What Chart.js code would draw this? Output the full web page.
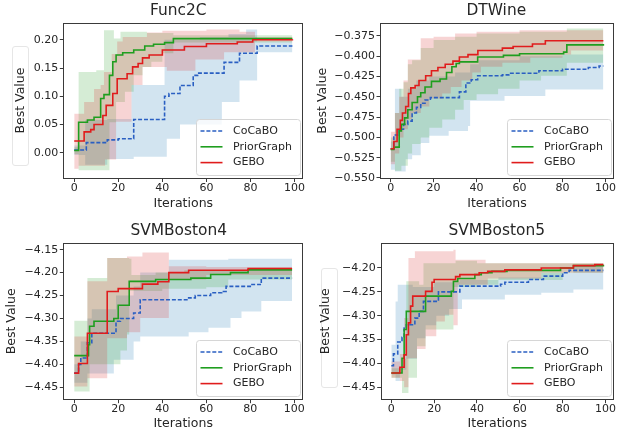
<!DOCTYPE html>
<html><head><meta charset="utf-8">
<script src="https://cdn.jsdelivr.net/npm/chart.js@4.4.0/dist/chart.umd.min.js"></script>
<style>
html,body{margin:0;padding:0;background:#fff;}
body{width:621px;height:438px;position:relative;overflow:hidden;}
canvas{position:absolute;}
.lbox{position:absolute;border:1px solid #e6e6e6;border-radius:3px;}
</style></head><body>
<div class="lbox" style="left:12px;top:46px;width:15px;height:118px"></div>
<div class="lbox" style="left:321px;top:268px;width:15px;height:118px"></div>
<canvas id="c1" width="310" height="219" style="left:0;top:0"></canvas>
<canvas id="c2" width="311" height="219" style="left:310px;top:0"></canvas>
<canvas id="c3" width="310" height="219" style="left:0;top:219px"></canvas>
<canvas id="c4" width="311" height="219" style="left:310px;top:219px"></canvas>
<script>
// ---------- data ----------
const SERIES_NAMES = ['CoCaBO', 'PriorGraph', 'GEBO'];
const X_TICKS = [0, 20, 40, 60, 80, 100];

// Func2C
const func2cYTicks = [0.00, 0.05, 0.10, 0.15, 0.20];
const func2cCocaboMean = [[0,0.005],[5.5,0.018],[15,0.023],[20,0.025],[27,0.059],[41,0.100],[43,0.105],[48,0.119],[54,0.137],[56,0.141],[68,0.160],[75,0.176],[83,0.189],[99,0.189]];
const func2cCocaboLow  = [[0,-0.004],[5,-0.021],[15,-0.011],[27,-0.007],[42,0.025],[48,0.05],[67,0.09],[75,0.128],[83,0.178],[99,0.178]];
const func2cCocaboHigh = [[0,0.013],[5,0.058],[15,0.06],[26,0.12],[41,0.2],[57,0.205],[70,0.21],[78,0.218],[83,0.197],[99,0.197]];
const func2cPriorMean  = [[0,0.004],[2,0.054],[6,0.058],[9,0.063],[12,0.096],[13.5,0.103],[16,0.137],[17.5,0.161],[19,0.173],[22,0.177],[27,0.182],[32,0.189],[36,0.192],[41,0.195],[45,0.202],[99,0.202]];
const func2cPriorLow   = [[0,-0.002],[2,-0.031],[16,0.054],[19,0.09],[23,0.108],[27,0.137],[31,0.152],[35,0.161],[40,0.176],[45,0.195],[99,0.196]];
const func2cPriorHigh  = [[0,0.010],[2,0.143],[10,0.146],[13.5,0.217],[18,0.202],[21,0.214],[33,0.212],[45,0.208],[99,0.206]];
const func2cGeboMean   = [[0,0.021],[4.5,0.037],[7.5,0.041],[9,0.050],[13,0.066],[14.5,0.084],[17.5,0.105],[19.5,0.131],[24,0.140],[26.5,0.152],[29,0.158],[31,0.168],[34,0.173],[40,0.182],[50,0.188],[60,0.193],[74,0.196],[81,0.200],[99,0.201]];
const func2cGeboLow    = [[0,-0.028],[2,-0.023],[14,-0.012],[19,0.055],[26,0.12],[31,0.152],[42,0.145],[55,0.165],[68,0.178],[82,0.197],[99,0.197]];
const func2cGeboHigh   = [[0,0.069],[4.5,0.09],[9,0.113],[12,0.12],[13.5,0.143],[17,0.175],[19.5,0.197],[22,0.205],[33,0.213],[40,0.216],[60,0.218],[75,0.214],[82,0.205],[99,0.205]];

// DTWine
const dtwineYTicks = [-0.550, -0.525, -0.500, -0.475, -0.450, -0.425, -0.400, -0.375];
const dtwineCocaboMean = [[0,-0.514],[1.5,-0.497],[4,-0.490],[6,-0.484],[8,-0.480],[10,-0.470],[12,-0.463],[14,-0.458],[16,-0.454],[18.5,-0.451],[32,-0.444],[35,-0.433],[37.5,-0.429],[40.5,-0.424],[52,-0.423],[55,-0.421],[69,-0.418],[80,-0.416],[92,-0.414],[97,-0.412],[99,-0.412]];
const dtwineCocaboLow  = [[0,-0.54],[2,-0.542],[7,-0.527],[10,-0.522],[14,-0.507],[18,-0.498],[27,-0.492],[36,-0.486],[37,-0.455],[53,-0.449],[72,-0.441],[99,-0.438]];
const dtwineCocaboHigh = [[0,-0.505],[2,-0.44],[5,-0.45],[8,-0.44],[12,-0.43],[18,-0.425],[30,-0.42],[37,-0.41],[41,-0.405],[60,-0.4],[80,-0.398],[99,-0.395]];
const dtwinePriorMean  = [[0,-0.515],[1.5,-0.512],[4,-0.492],[5,-0.484],[6.5,-0.476],[8,-0.466],[10,-0.457],[12.5,-0.450],[14,-0.445],[16,-0.438],[19,-0.431],[23,-0.428],[26,-0.420],[28.5,-0.413],[30.5,-0.409],[32,-0.407],[40.5,-0.401],[52.5,-0.399],[60,-0.397],[80.5,-0.395],[82,-0.386],[99,-0.385]];
const dtwinePriorLow   = [[0,-0.53],[2,-0.541],[5,-0.535],[8,-0.52],[10,-0.508],[14,-0.5],[18,-0.488],[24,-0.478],[30,-0.466],[34,-0.454],[40,-0.447],[50,-0.44],[60,-0.43],[70,-0.424],[82,-0.408],[99,-0.405]];
const dtwinePriorHigh  = [[0,-0.5],[2,-0.47],[4,-0.44],[6,-0.432],[8,-0.41],[10,-0.405],[14,-0.39],[20,-0.38],[30,-0.376],[40,-0.372],[60,-0.37],[82,-0.366],[99,-0.366]];
const dtwineGeboMean   = [[0,-0.514],[1.5,-0.505],[3,-0.490],[4.5,-0.479],[5.5,-0.470],[7,-0.462],[8.3,-0.446],[9.4,-0.439],[11.4,-0.436],[13.2,-0.430],[16.3,-0.424],[19,-0.418],[22,-0.414],[25.4,-0.410],[29,-0.406],[32,-0.401],[36,-0.398],[40.6,-0.393],[52,-0.390],[57,-0.388],[66,-0.385],[72,-0.381],[99,-0.381]];
const dtwineGeboLow    = [[0,-0.533],[2,-0.52],[4,-0.5],[6,-0.49],[8,-0.478],[10,-0.47],[14,-0.462],[18,-0.452],[24,-0.446],[28,-0.438],[33,-0.43],[38,-0.42],[42,-0.413],[52,-0.408],[65,-0.402],[80,-0.398],[84,-0.393],[99,-0.393]];
const dtwineGeboHigh   = [[0,-0.493],[2,-0.47],[4,-0.45],[6,-0.43],[8,-0.404],[14,-0.378],[20,-0.376],[30,-0.372],[40,-0.37],[60,-0.368],[99,-0.367]];

// SVMBoston4
const svm4YTicks = [-4.45, -4.40, -4.35, -4.30, -4.25, -4.20, -4.15];
const svm4CocaboMean = [[0,-4.419],[2,-4.400],[3,-4.386],[6,-4.353],[8,-4.332],[19,-4.306],[21,-4.300],[27,-4.288],[30,-4.259],[52,-4.255],[55,-4.250],[62,-4.244],[67,-4.241],[69,-4.230],[80,-4.226],[85,-4.212],[99,-4.212]];
const svm4CocaboLow  = [[0,-4.44],[6,-4.42],[18,-4.39],[27,-4.35],[30,-4.339],[52,-4.33],[61,-4.32],[71,-4.299],[76,-4.285],[85,-4.262],[99,-4.26]];
const svm4CocaboHigh = [[0,-4.40],[3,-4.35],[6,-4.30],[8,-4.28],[19,-4.25],[27,-4.23],[30,-4.20],[43,-4.172],[70,-4.17],[99,-4.175]];
const svm4PriorMean  = [[0,-4.381],[6.5,-4.357],[7,-4.317],[9,-4.306],[18,-4.300],[20,-4.271],[25,-4.219],[37,-4.215],[53,-4.212],[62,-4.204],[71,-4.200],[79,-4.194],[99,-4.194]];
const svm4PriorLow   = [[0,-4.459],[6.5,-4.459],[7,-4.40],[21,-4.37],[24,-4.335],[25,-4.24],[40,-4.235],[60,-4.232],[70,-4.215],[99,-4.205]];
const svm4PriorHigh  = [[0,-4.305],[6,-4.212],[12,-4.212],[15,-4.168],[25,-4.17],[26,-4.205],[37,-4.2],[50,-4.195],[99,-4.19]];
const svm4GeboMean   = [[0,-4.419],[2,-4.398],[6,-4.332],[15,-4.241],[20,-4.235],[31,-4.225],[38,-4.220],[43,-4.200],[52,-4.195],[79,-4.191],[99,-4.191]];
const svm4GeboLow    = [[0,-4.448],[6,-4.43],[15,-4.343],[24,-4.33],[30,-4.299],[43,-4.215],[60,-4.205],[99,-4.198]];
const svm4GeboHigh   = [[0,-4.339],[6,-4.219],[15,-4.168],[24,-4.165],[31,-4.156],[43,-4.186],[60,-4.188],[99,-4.187]];

// SVMBoston5
const svm5YTicks = [-4.45, -4.40, -4.35, -4.30, -4.25, -4.20];
const svm5CocaboMean = [[0,-4.405],[1,-4.38],[3,-4.355],[5,-4.345],[6,-4.326],[7,-4.319],[11,-4.305],[13,-4.291],[15,-4.270],[22,-4.250],[32,-4.238],[51,-4.234],[53,-4.230],[64,-4.224],[71,-4.217],[80,-4.210],[83,-4.205],[99,-4.205]];
const svm5CocaboLow  = [[0,-4.423],[2,-4.437],[4,-4.413],[7,-4.39],[12,-4.347],[16,-4.32],[21,-4.3],[27,-4.286],[33,-4.266],[53,-4.256],[70,-4.252],[85,-4.245],[99,-4.242]];
const svm5CocaboHigh = [[0,-4.361],[2,-4.27],[3,-4.235],[10,-4.24],[20,-4.23],[32,-4.225],[50,-4.22],[70,-4.21],[85,-4.195],[99,-4.193]];
const svm5PriorMean  = [[0,-4.42],[5,-4.389],[6,-4.329],[7,-4.291],[16,-4.259],[28,-4.249],[29,-4.228],[31,-4.222],[39,-4.214],[42,-4.21],[47,-4.207],[54,-4.205],[79,-4.200],[85,-4.195],[99,-4.193]];
const svm5PriorLow   = [[0,-4.43],[5,-4.462],[8,-4.43],[12,-4.364],[16,-4.329],[29,-4.24],[40,-4.235],[50,-4.225],[80,-4.21],[99,-4.205]];
const svm5PriorHigh  = [[0,-4.41],[5,-4.39],[7,-4.228],[13,-4.235],[15,-4.19],[30,-4.185],[40,-4.19],[99,-4.19]];
const svm5GeboMean   = [[0,-4.42],[4,-4.408],[6,-4.382],[7,-4.34],[8,-4.315],[9,-4.28],[10,-4.259],[16,-4.249],[19,-4.23],[20,-4.224],[30,-4.218],[32,-4.214],[41,-4.210],[45,-4.207],[53,-4.204],[70,-4.200],[85,-4.195],[95,-4.193],[99,-4.193]];
const svm5GeboLow    = [[0,-4.43],[4,-4.437],[6,-4.45],[8,-4.389],[12,-4.37],[16,-4.343],[21,-4.312],[25,-4.298],[29,-4.32],[31,-4.235],[45,-4.222],[70,-4.21],[99,-4.2]];
const svm5GeboHigh   = [[0,-4.396],[4,-4.38],[6,-4.305],[8,-4.179],[11,-4.165],[29,-4.162],[30,-4.183],[44,-4.19],[99,-4.19]];

// ---------- styles ----------
const STYLES = [
  {line:'#2a5fc2', band:'rgba(31,119,180,0.2)', dash:[4,1.9]},
  {line:'#1f9e1f', band:'rgba(44,160,44,0.2)', dash:[]},
  {line:'#e01c1c', band:'rgba(214,39,40,0.2)', dash:[]}
];
const FONT = "'DejaVu Sans'";
const TXT = '#262626';
const AX = '#3a3a3a';

const pts = a => a.map(p => ({x: p[0], y: p[1]}));

const titleShift = {
  id: 'titleShift',
  afterLayout(chart, args, opts) {
    const t = chart.titleBlock;
    if (!t) return;
    const dx = opts.center - (t.left + t.right) / 2;
    t.left += dx; t.right += dx;
  }
};

const frameLegend = {
  id: 'frameLegend',
  afterDatasetsDraw(chart, args, opts) {
    const ctx = chart.ctx, a = chart.chartArea;
    ctx.save();
    ctx.strokeStyle = AX; ctx.lineWidth = 1;
    const L = Math.round(a.left) + 0.5, T = Math.round(a.top) + 0.5;
    const R = Math.round(a.right) - 0.5, B = Math.round(a.bottom) - 0.5;
    ctx.strokeRect(L, T, R - L, B - T);
    const items = chart.data.datasets.filter(d => d.isMean);
    const w = opts.w, h = opts.h, r = 3;
    const x0 = Math.round(a.right - opts.inset - w) + 0.5, y0 = Math.round(a.bottom - opts.inset - h) + 0.5;
    ctx.beginPath();
    ctx.moveTo(x0 + r, y0); ctx.lineTo(x0 + w - r, y0); ctx.arcTo(x0 + w, y0, x0 + w, y0 + r, r);
    ctx.lineTo(x0 + w, y0 + h - r); ctx.arcTo(x0 + w, y0 + h, x0 + w - r, y0 + h, r);
    ctx.lineTo(x0 + r, y0 + h); ctx.arcTo(x0, y0 + h, x0, y0 + h - r, r);
    ctx.lineTo(x0, y0 + r); ctx.arcTo(x0, y0, x0 + r, y0, r); ctx.closePath();
    ctx.fillStyle = 'rgba(255,255,255,0.8)'; ctx.fill();
    ctx.strokeStyle = '#d6d6d6'; ctx.lineWidth = 1; ctx.stroke();
    items.forEach((d, i) => {
      const cy = y0 + opts.row0 + i * opts.rowGap;
      ctx.beginPath();
      ctx.setLineDash(d.borderDash || []);
      ctx.strokeStyle = d.borderColor; ctx.lineWidth = d.borderWidth;
      ctx.moveTo(x0 + 4, cy); ctx.lineTo(x0 + 26, cy); ctx.stroke();
      ctx.setLineDash([]);
      ctx.fillStyle = TXT; ctx.font = '11px ' + FONT;
      ctx.textBaseline = 'middle'; ctx.textAlign = 'left';
      ctx.fillText(d.label, x0 + 36.5, cy);
    });
    ctx.restore();
  }
};

function build(id, spec) {
  const datasets = [];
  spec.series.forEach((s, i) => {
    const st = STYLES[i];
    const bandOrder = 30 - i * 10;
    datasets.push({label: '', data: pts(s.low), stepped: true, borderWidth: 0, borderColor: 'rgba(0,0,0,0)',
      pointRadius: 0, fill: false, order: bandOrder});
    datasets.push({label: '', data: pts(s.high), stepped: true, borderWidth: 0, borderColor: 'rgba(0,0,0,0)',
      pointRadius: 0, fill: '-1', backgroundColor: st.band, order: bandOrder});
  });
  spec.series.forEach((s, i) => {
    const st = STYLES[i];
    datasets.push({label: SERIES_NAMES[i], isMean: true, data: pts(s.mean), stepped: true, borderWidth: 1.6,
      borderColor: st.line, borderDash: st.dash, pointRadius: 0, fill: false, order: 3 - i});
  });
  const L = spec.layout;
  const tickFont = {family: FONT, size: 11, lineHeight: 1};
  new Chart(document.getElementById(id), {
    type: 'line',
    data: {datasets},
    plugins: [titleShift, frameLegend],
    options: {
      responsive: false, animation: false, events: [],
      layout: {padding: {left: 0, right: L.padR, top: 0, bottom: 0}},
      plugins: {
        legend: {display: false}, tooltip: {enabled: false},
        title: {display: true, text: spec.title, fullSize: false, color: TXT,
          font: {family: FONT, size: 15.4, weight: 'normal', lineHeight: 1.2},
          padding: {top: L.titlePT, bottom: L.titlePB}},
        titleShift: {center: L.titleC},
        frameLegend: {w: 104, h: 56, inset: 3.5, row0: 11.5, rowGap: 15.8}
      },
      scales: {
        x: {type: 'linear', min: -4.95, max: 103.95,
          afterBuildTicks: sc => { sc.ticks = X_TICKS.map(v => ({value: v})); },
          afterFit: sc => { sc.height = L.xh; },
          grid: {display: true, drawOnChartArea: false, drawTicks: true, tickLength: 3.5, tickColor: AX, lineWidth: 1},
          border: {display: false},
          ticks: {autoSkip: false, maxRotation: 0, padding: 0.2, color: TXT, font: tickFont, callback: v => String(v)},
          title: {display: true, text: 'Iterations', color: TXT, font: {family: FONT, size: 12.5, lineHeight: 1.2},
            padding: {top: 0, bottom: L.xTitlePB}}
        },
        y: {type: 'linear', min: spec.yMin, max: spec.yMax,
          afterBuildTicks: sc => { sc.ticks = spec.yTicks.map(v => ({value: v})); },
          afterFit: sc => { sc.width = L.left; },
          grid: {display: true, drawOnChartArea: false, drawTicks: true, tickLength: 3.5, tickColor: AX, lineWidth: 1},
          border: {display: false},
          ticks: {autoSkip: false, padding: 1.5, color: TXT, font: tickFont,
            callback: v => v.toFixed(spec.dec).replace('-', '\u2212')},
          title: {display: true, text: 'Best Value', color: TXT, font: {family: FONT, size: 12.5, lineHeight: 1.2},
            padding: {top: L.yTitlePT, bottom: 0}}
        }
      }
    }
  });
}

build('c1', {
  title: 'Func2C', yMin: -0.0454, yMax: 0.2302, yTicks: func2cYTicks, dec: 2,
  layout: {left: 63.3, padR: 6.7, xh: 40.5, titlePT: 1.9, titlePB: 2.3, titleC: 178.3, yTitlePT: 13.3, xTitlePB: 7.8},
  series: [
    {mean: func2cCocaboMean, low: func2cCocaboLow, high: func2cCocaboHigh},
    {mean: func2cPriorMean, low: func2cPriorLow, high: func2cPriorHigh},
    {mean: func2cGeboMean, low: func2cGeboLow, high: func2cGeboHigh}
  ]
});
build('c2', {
  title: 'DTWine', yMin: -0.5509, yMax: -0.3587, yTicks: dtwineYTicks, dec: 3,
  layout: {left: 70, padR: 7, xh: 40.3, titlePT: 1.9, titlePB: 2.3, titleC: 186.3, yTitlePT: 5.3, xTitlePB: 7.8},
  series: [
    {mean: dtwineCocaboMean, low: dtwineCocaboLow, high: dtwineCocaboHigh},
    {mean: dtwinePriorMean, low: dtwinePriorLow, high: dtwinePriorHigh},
    {mean: dtwineGeboMean, low: dtwineGeboLow, high: dtwineGeboHigh}
  ]
});
build('c3', {
  title: 'SVMBoston4', yMin: -4.477, yMax: -4.1354, yTicks: svm4YTicks, dec: 2,
  layout: {left: 63.3, padR: 7, xh: 38.3, titlePT: 2.6, titlePB: 2.9, titleC: 178.7, yTitlePT: 4.2, xTitlePB: 6.6},
  series: [
    {mean: svm4CocaboMean, low: svm4CocaboLow, high: svm4CocaboHigh},
    {mean: svm4PriorMean, low: svm4PriorLow, high: svm4PriorHigh},
    {mean: svm4GeboMean, low: svm4GeboLow, high: svm4GeboHigh}
  ]
});
build('c4', {
  title: 'SVMBoston5', yMin: -4.476, yMax: -4.1476, yTicks: svm5YTicks, dec: 2,
  layout: {left: 70.7, padR: 7, xh: 38.3, titlePT: 2.6, titlePB: 2.9, titleC: 186.7, yTitlePT: 8.2, xTitlePB: 6.6},
  series: [
    {mean: svm5CocaboMean, low: svm5CocaboLow, high: svm5CocaboHigh},
    {mean: svm5PriorMean, low: svm5PriorLow, high: svm5PriorHigh},
    {mean: svm5GeboMean, low: svm5GeboLow, high: svm5GeboHigh}
  ]
});
</script>
</body></html>
